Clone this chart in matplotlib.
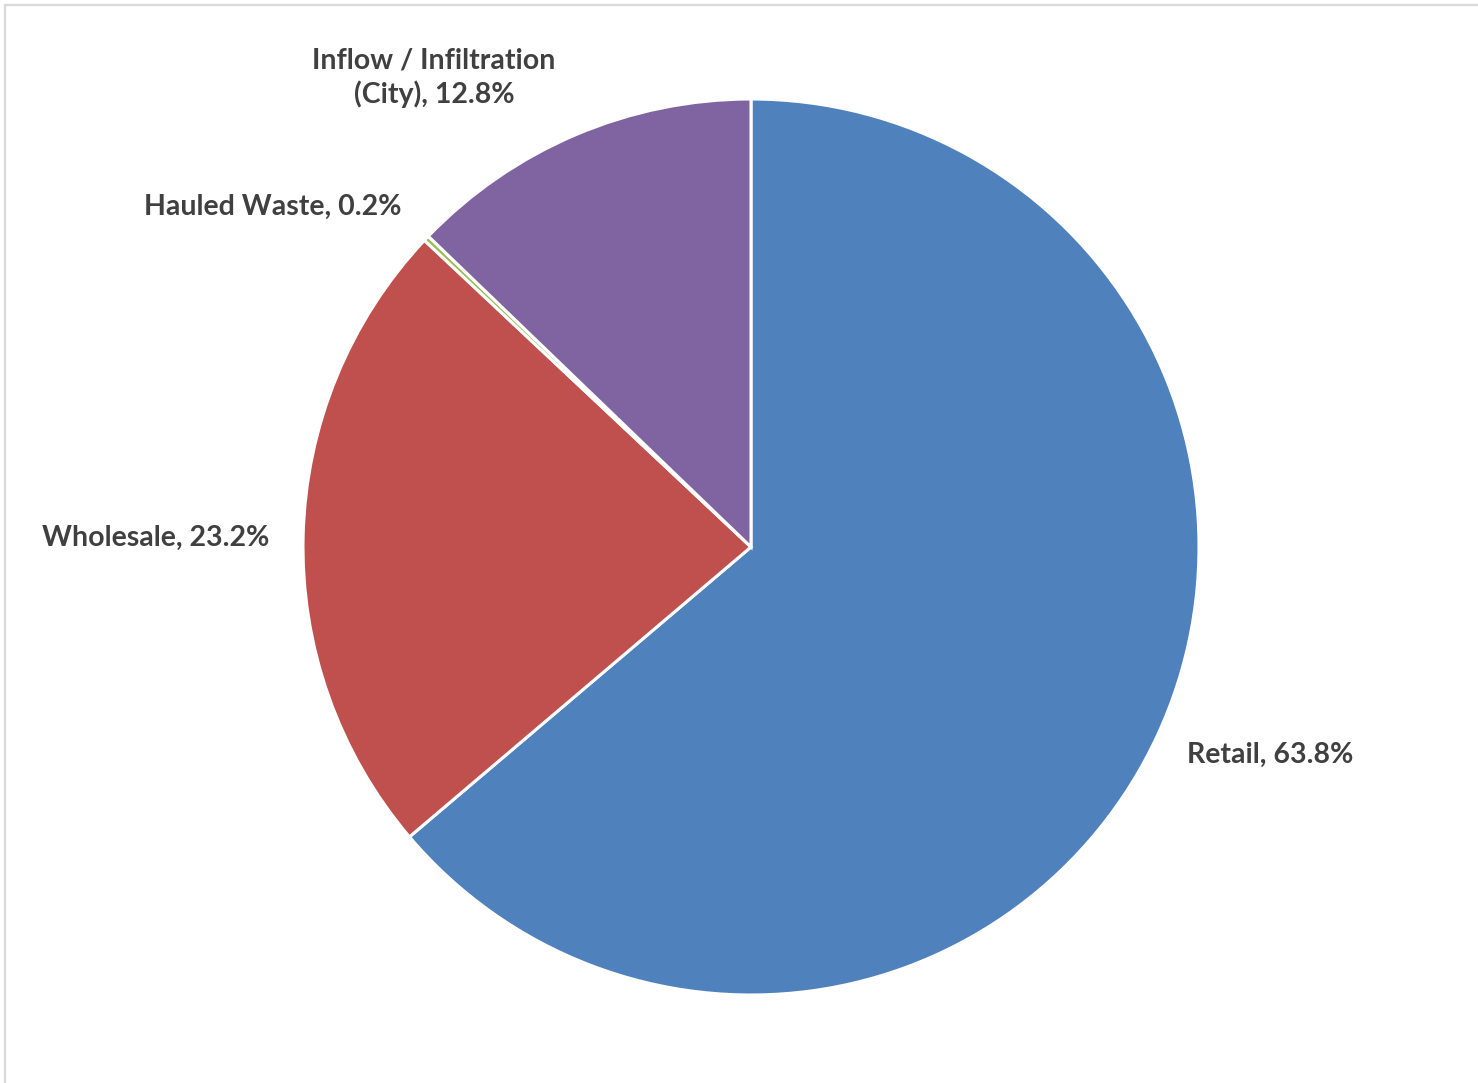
import matplotlib
matplotlib.use("Agg")
import matplotlib.pyplot as plt
from matplotlib.patches import Rectangle

# wastewater flow share by source
categories = ["Retail", "Wholesale", "Hauled Waste", "Inflow / Infiltration\n(City)"]
shares = [63.8, 23.2, 0.2, 12.8]
colors = ["#4F81BD", "#C0504D", "#9BBB59", "#8064A2"]

# label anchors in pie data units (radius = 1)
label_pos = [(1.158, -0.465), (-1.328, 0.02), (-1.067, 0.76), (-0.708, 1.048)]

W, H = 1478, 1083
fig = plt.figure(figsize=(W / 100, H / 100), dpi=100)
fig.patch.set_facecolor("white")

# light gray chart-area frame, clipped by the right/bottom edges
fig.add_artist(Rectangle((4.5 / W, -0.1), 1.2, 1 - 4.5 / H + 0.1,
                         transform=fig.transFigure, fill=False,
                         edgecolor="#d9d9d9", linewidth=1.6))

cx, cy, r = 751, 547, 448
ax = fig.add_axes([(cx - r) / W, (H - cy - r) / H, 2 * r / W, 2 * r / H])
ax.pie(shares, colors=colors, startangle=90, counterclock=False, radius=1,
       wedgeprops=dict(edgecolor="white", linewidth=2.2))
ax.set_xlim(-1, 1)
ax.set_ylim(-1, 1)
ax.set_aspect("equal")
ax.axis("off")

for name, val, (x, y) in zip(categories, shares, label_pos):
    ax.text(x, y, f"{name}, {val:.1f}%", ha="center", va="center",
            fontsize=20.5, fontweight="bold", color="#404040",
            family=["Lato", "DejaVu Sans"], linespacing=1.3, clip_on=False)

fig.savefig("out.png", dpi=100, facecolor=fig.get_facecolor())
